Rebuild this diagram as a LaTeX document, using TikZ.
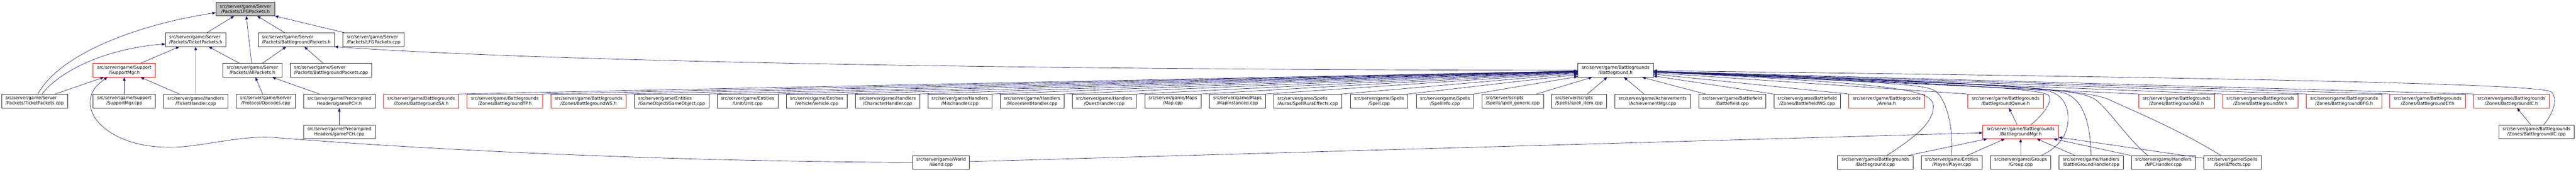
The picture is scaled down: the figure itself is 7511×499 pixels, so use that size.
\documentclass[tikz,border=0pt]{standalone}
\usepackage{fontspec}
\setmainfont{DejaVu Sans}
\usetikzlibrary{arrows.meta}
\definecolor{mblue}{RGB}{25,25,112}
\definecolor{bord}{RGB}{40,40,40}
\definecolor{rootfill}{RGB}{191,191,191}
\begin{document}
\begin{tikzpicture}[x=1pt,y=-1pt,
  nbox/.style={draw=bord, line width=1pt, rectangle, minimum height=40pt, inner sep=0pt,
    align=center, font=\fontsize{12.73}{15}\selectfont, text=black},
  rbox/.style={nbox, draw=red},
  lft/.style={align=left},
  conn/.style={draw=mblue, line width=1pt, -{Triangle[length=10pt,width=8pt]}}]
\path[fill=white, use as bounding box] (0,0) rectangle (7511,499);

% row 0
\node[nbox, fill=rootfill, minimum width=172pt] (LFG) at (715.8,26) {src/server/game/Server\\/Packets/LFGPackets.h};
% row 1
\node[nbox, lft, minimum width=177pt] (TPH) at (570.7,115.3) {src/server/game/Server\\/Packets/TicketPackets.h};
\node[nbox, lft, minimum width=223pt] (BGP) at (863.9,115.3) {src/server/game/Server\\/Packets/BattlegroundPackets.h};
\node[nbox, lft, minimum width=178.7pt] (LFGC) at (1089.35,115.3) {src/server/game/Server\\/Packets/LFGPackets.cpp};
% row 2
\node[rbox, minimum width=181.6pt] (SM) at (362.4,204.3) {src/server/game/Support\\/SupportMgr.h};
\node[nbox, minimum width=172pt] (AP) at (735.9,204.3) {src/server/game/Server\\/Packets/AllPackets.h};
\node[nbox, lft, minimum width=238.3pt] (BGPC) at (965.15,204.3) {src/server/game/Server\\/Packets/BattlegroundPackets.cpp};
\node[nbox, minimum width=220.2pt] (BG) at (4710.5,204.3) {src/server/game/Battlegrounds\\/Battleground.h};
% row 3
\node[nbox, lft, minimum width=192.1pt] (TPC) at (100.85,294) {src/server/game/Server\\/Packets/TicketPackets.cpp};
\node[nbox, minimum width=181.6pt] (SMC) at (362.4,294) {src/server/game/Support\\/SupportMgr.cpp};
\node[nbox, minimum width=186.7pt] (TH) at (570.65,294) {src/server/game/Handlers\\/TicketHandler.cpp};
\node[nbox, minimum width=172.4pt] (OPC) at (774.7,294) {src/server/game/Server\\/Protocol/Opcodes.cpp};
\node[nbox, minimum width=209.3pt] (PCHH) at (989.25,294) {src/server/game/Precompiled\\Headers/gamePCH.h};
\node[rbox, minimum width=220.4pt] (SA) at (1227.8,294) {src/server/game/Battlegrounds\\/Zones/BattlegroundSA.h};
\node[rbox, minimum width=220.2pt] (TP) at (1471.8,294) {src/server/game/Battlegrounds\\/Zones/BattlegroundTP.h};
\node[rbox, minimum width=219.8pt] (WS) at (1715.9,294) {src/server/game/Battlegrounds\\/Zones/BattlegroundWS.h};
\node[nbox, lft, minimum width=217.1pt] (GO) at (1958.45,294) {src/server/game/Entities\\/GameObject/GameObject.cpp};
\node[nbox, minimum width=177.2pt] (UNIT) at (2179.8,294) {src/server/game/Entities\\/Unit/Unit.cpp};
\node[nbox, minimum width=177.2pt] (VEH) at (2381.1,294) {src/server/game/Entities\\/Vehicle/Vehicle.cpp};
\node[nbox, minimum width=187pt] (CHAR) at (2587.7,294) {src/server/game/Handlers\\/CharacterHandler.cpp};
\node[nbox, minimum width=186.5pt] (MISC) at (2798.55,294) {src/server/game/Handlers\\/MiscHandler.cpp};
\node[nbox, minimum width=186.4pt] (MOV) at (3009.1,294) {src/server/game/Handlers\\/MovementHandler.cpp};
\node[nbox, minimum width=186.8pt] (QUEST) at (3219.6,294) {src/server/game/Handlers\\/QuestHandler.cpp};
\node[nbox, minimum width=163.9pt] (MAP) at (3419.95,294) {src/server/game/Maps\\/Map.cpp};
\node[nbox, minimum width=164pt] (MAPI) at (3608,294) {src/server/game/Maps\\/MapInstanced.cpp};
\node[nbox, lft, minimum width=199.1pt] (SAE) at (3813.15,294) {src/server/game/Spells\\/Auras/SpellAuraEffects.cpp};
\node[nbox, minimum width=168pt] (SPELL) at (4021.2,294) {src/server/game/Spells\\/Spell.cpp};
\node[nbox, minimum width=168pt] (SINFO) at (4213.3,294) {src/server/game/Spells\\/SpellInfo.cpp};
\node[nbox, lft, minimum width=179pt] (SGEN) at (4410.9,294) {src/server/scripts\\/Spells/spell\_generic.cpp};
\node[nbox, lft, minimum width=160.3pt] (SITEM) at (4603.85,294) {src/server/scripts\\/Spells/spell\_item.cpp};
\node[nbox, minimum width=221.3pt] (ACH) at (4818.35,294) {src/server/game/Achievements\\/AchievementMgr.cpp};
\node[nbox, minimum width=195.1pt] (BF) at (5050.35,294) {src/server/game/Battlefield\\/Battlefield.cpp};
\node[nbox, minimum width=194.4pt] (BFWG) at (5269.2,294) {src/server/game/Battlefield\\/Zones/BattlefieldWG.cpp};
\node[rbox, minimum width=220.1pt] (ARENA) at (5501.05,294) {src/server/game/Battlegrounds\\/Arena.h};
\node[rbox, minimum width=219.8pt] (QUEUE) at (5847.8,294) {src/server/game/Battlegrounds\\/BattlegroundQueue.h};
\node[rbox, minimum width=220.5pt] (AB) at (6346.25,294) {src/server/game/Battlegrounds\\/Zones/BattlegroundAB.h};
\node[rbox, minimum width=220.2pt] (AV) at (6590.3,294) {src/server/game/Battlegrounds\\/Zones/BattlegroundAV.h};
\node[rbox, minimum width=220.3pt] (BFG) at (6834.65,294) {src/server/game/Battlegrounds\\/Zones/BattlegroundBFG.h};
\node[rbox, minimum width=220.2pt] (EY) at (7078.4,294) {src/server/game/Battlegrounds\\/Zones/BattlegroundEY.h};
\node[rbox, minimum width=220.2pt] (ICH) at (7322.6,294) {src/server/game/Battlegrounds\\/Zones/BattlegroundIC.h};
% row 4
\node[nbox, minimum width=209.3pt] (PCHC) at (989.25,383.3) {src/server/game/Precompiled\\Headers/gamePCH.cpp};
\node[rbox, minimum width=220.6pt] (BM) at (5891.6,383.3) {src/server/game/Battlegrounds\\/BattlegroundMgr.h};
\node[nbox, minimum width=219.8pt] (ICC) at (7395.8,383.3) {src/server/game/Battlegrounds\\/Zones/BattlegroundIC.cpp};
% row 5
\node[nbox, minimum width=164.8pt] (WORLD) at (2743.9,472.3) {src/server/game/World\\/World.cpp};
\node[nbox, minimum width=219.8pt] (BGC) at (5467.9,472.3) {src/server/game/Battlegrounds\\/Battleground.cpp};
\node[nbox, minimum width=177pt] (PLAYER) at (5690.4,472.3) {src/server/game/Entities\\/Player/Player.cpp};
\node[nbox, minimum width=176pt] (GROUP) at (5891.8,472.3) {src/server/game/Groups\\/Group.cpp};
\node[nbox, minimum width=186.4pt] (BGH) at (6097.1,472.3) {src/server/game/Handlers\\/BattleGroundHandler.cpp};
\node[nbox, minimum width=186.7pt] (NPC) at (6307.75,472.3) {src/server/game/Handlers\\/NPCHandler.cpp};
\node[nbox, minimum width=167.9pt] (SE) at (6509.15,472.3) {src/server/game/Spells\\/SpellEffects.cpp};

% ---- edges, left cluster
\draw[conn] (TPH) -- (LFG);
\draw[conn] (AP) -- (LFG);
\draw[conn] (BGP) -- (LFG);
\draw[conn] (LFGC) -- (LFG);
\draw[conn] ([xshift=9.6pt]TPC.north) .. controls (176.5,153) and (411.5,69.5) .. ([yshift=-11pt]LFG.west);
\draw[conn] ([xshift=21.6pt]TPC.north) .. controls (180,200) and (320,140) .. ([yshift=-12.7pt]TPH.west);
\draw[conn] (TPC) -- (SM);
\draw[conn] (SM) -- (TPH);
\draw[conn] (SMC) -- (SM);
\draw[conn] (TH) -- (SM);
\draw[conn] (TH) -- (TPH);
\draw[conn] (AP) -- (TPH);
\draw[conn] (AP) -- (BGP);
\draw[conn] (BGPC) -- (BGP);
\draw[conn] (OPC) -- (AP);
\draw[conn] (PCHH) -- (AP);
\draw[conn] (PCHC) -- (PCHH);
\draw[conn] (WORLD.west) .. controls (2000,470) and (1300,440) .. (801.8,400)
   .. controls (700,392) and (580,430) .. (494,428)
   .. controls (300,430) and (200,300) .. ([xshift=-49pt]SM.south);
\draw[conn] (WORLD) -- (BM);
\draw[conn] (BG.west) .. controls (3000,203) and (1600,180) .. (BGP.south east);

% ---- edges into Battleground.h
\foreach \n in {SA,TP,WS,GO,UNIT,VEH,CHAR,MISC,MOV,QUEST,MAP,MAPI,SAE,SPELL,SINFO}
  \draw[conn] (\n.north east) -- (BG);
\foreach \n in {SGEN,SITEM,ACH,BF}
  \draw[conn] (\n) -- (BG);
\foreach \n in {BFWG,ARENA,QUEUE,AB,AV,BFG,EY,ICH}
  \draw[conn] (\n.north west) -- (BG);
\draw[conn] ([xshift=34.1pt]BGC.north) .. controls (5590,395) and (5637,355) .. (5637,310)
   .. controls (5637,262) and (5560,245) .. (BG);
\draw[conn] (PLAYER.north) .. controls (5697,360) and (5670,280) .. (5640,263)
   .. controls (5610,246) and (5500,238) .. (BG);
\draw[conn] ([xshift=30.4pt]BM.north) .. controls (5960,330) and (5982,300) .. (5975,280)
   .. controls (5968,262) and (5850,248) .. (BG);
\draw[conn] ([xshift=60.7pt]GROUP.north) .. controls (6010,425) and (6031,385) .. (6030,340)
   .. controls (6029,295) and (6000,266) .. (5960,263)
   .. controls (5930,261) and (5700,245) .. (BG);
\draw[conn] (BGH.north) .. controls (6095,370) and (6080,300) .. (6030,275)
   .. controls (5990,255) and (5850,243) .. (BG);
\draw[conn] ([xshift=-45.7pt]NPC.north) .. controls (6200,400) and (6150,320) .. (6110,290)
   .. controls (6070,262) and (5950,245) .. (BG);
\draw[conn] ([xshift=-34.1pt]SE.north) .. controls (6350,375) and (6210,318) .. (6150,290)
   .. controls (6100,267) and (5950,246) .. (BG);
\draw[conn] ([xshift=20.7pt]ICC.north) .. controls (7445,330) and (7458,290) .. (7440,268)
   .. controls (7420,250) and (7000,232) .. (BG);

% ---- edges into BattlegroundMgr.h and others
\draw[conn] (BM) -- (QUEUE);
\draw[conn] (BGC) -- (BM);
\draw[conn] (PLAYER) -- (BM);
\draw[conn] (GROUP) -- (BM);
\draw[conn] (BGH) -- (BM);
\draw[conn] (NPC) -- (BM);
\draw[conn] (SE) -- (BM);
\draw[conn] (ICC) -- (ICH);
\end{tikzpicture}
\end{document}
